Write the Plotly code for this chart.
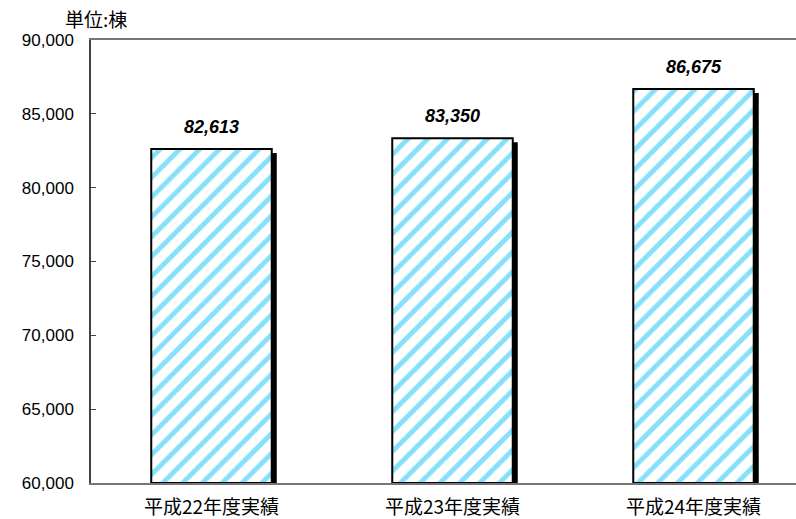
import plotly.graph_objects as go

categories = ["平成22年度実績", "平成23年度実績", "平成24年度実績"]
values = [82613, 83350, 86675]
y_ticks = [60000, 65000, 70000, 75000, 80000, 85000, 90000]
y_tick_labels = ["60,000", "65,000", "70,000", "75,000", "80,000", "85,000", "90,000"]
unit_label = "単位:棟"

Y_MIN, Y_MAX = 60000, 90000
PLOT_H = 443
units_per_px = (Y_MAX - Y_MIN) / PLOT_H
CAT_PX = 241
BAR_W = 0.5
SHADOW_DX = 5 / CAT_PX
SHADOW_DY = 4 * units_per_px

font_num = "Liberation Sans, Arial, sans-serif"
font_jp = "Noto Sans CJK JP, sans-serif"

fig = go.Figure()

# shadow
fig.add_trace(go.Bar(
    x=categories,
    y=[v - Y_MIN - SHADOW_DY for v in values],
    base=[Y_MIN] * len(values),
    width=BAR_W,
    offset=-BAR_W / 2 + SHADOW_DX,
    marker=dict(color="black", line=dict(width=0)),
    hoverinfo="skip",
    showlegend=False,
))

# main bars
fig.add_trace(go.Bar(
    x=categories,
    y=[v - Y_MIN for v in values],
    base=[Y_MIN] * len(values),
    width=BAR_W,
    offset=-BAR_W / 2,
    marker=dict(
        color="white",
        line=dict(color="black", width=2),
        pattern=dict(shape="/", fgcolor="#0cc2f7", bgcolor="white", size=14, solidity=0.35),
    ),
    showlegend=False,
))

for c, v in zip(categories, values):
    fig.add_annotation(
        x=c, y=v, text=f"{v:,}", showarrow=False, yshift=22,
        font=dict(family=font_num, size=18, color="black", weight="bold", style="italic"),
    )

fig.add_annotation(
    xref="paper", yref="paper", x=(63 - 91) / 705, y=1.0, yshift=22, xanchor="left", yanchor="middle",
    text=unit_label, showarrow=False,
    font=dict(family=font_jp, size=19, color="black"),
)

fig.update_layout(
    width=796, height=519,
    margin=dict(l=91, r=0, t=40, b=36),
    paper_bgcolor="white", plot_bgcolor="white",
    barmode="overlay",
    xaxis=dict(
        range=[-0.5, -0.5 + 705 / CAT_PX],
        showline=True, linecolor="#777", linewidth=2, mirror=True,
        ticks="", showgrid=False,
        ticklabelstandoff=6,
        tickfont=dict(family=font_jp, size=19, color="black"),
    ),
    yaxis=dict(
        range=[Y_MIN, Y_MAX],
        tickvals=y_ticks, ticktext=y_tick_labels,
        showline=True, linecolor="#444", linewidth=1.5,
        ticks="inside", ticklen=5, tickcolor="#444",
        showgrid=False, zeroline=False,
        ticklabelstandoff=12,
        tickfont=dict(family=font_num, size=17, color="black"),
    ),
)

fig.write_html("out.html")
